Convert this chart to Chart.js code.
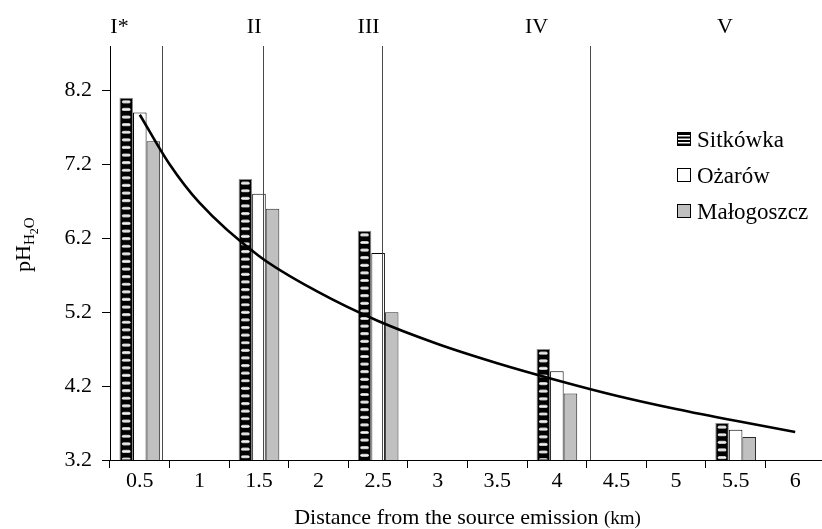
<!DOCTYPE html>
<html><head><meta charset="utf-8">
<script src="https://cdn.jsdelivr.net/npm/chart.js@4"></script>
<style>html,body{margin:0;padding:0;overflow:hidden;background:#fff}#wrap{width:830px;height:529px;position:relative}</style>
</head><body><div id="wrap"><canvas id="c"></canvas></div>
<script>
const distanceLabels = ['0.5','1','1.5','2','2.5','3','3.5','4','4.5','5','5.5','6'];
const sitkowka   = [8.10, null, 7.00, null, 6.30, null, null, 4.70, null, null, 3.70, null];
const ozarow     = [7.90, null, 6.80, null, 6.00, null, null, 4.40, null, null, 3.61, null];
const malogoszcz = [7.51, null, 6.60, null, 5.20, null, null, 4.10, null, null, 3.51, null];
const trendX = [0.5, 0.75, 1, 1.5, 2, 2.5, 3, 3.5, 4, 4.5, 5, 5.5, 6];
const trendY = [7.87, 7.20, 6.68, 5.96, 5.47, 5.08, 4.77, 4.51, 4.28, 4.07, 3.89, 3.73, 3.58];
const yTicks = [3.2, 4.2, 5.2, 6.2, 7.2, 8.2];
const zoneNames = ['I*', 'II', 'III', 'IV', 'V'];
const zoneLabelAt = [0.33, 1.46, 2.42, 3.83, 5.41];
const zoneBounds = [0.69, 1.53, 2.53, 4.28];
const seriesNames = ['Sitkówka', 'Ożarów', 'Małogoszcz'];

const FONT = "'Liberation Serif', 'Times New Roman', serif";

// distance (km) -> fractional category index on the category axis
const d0 = parseFloat(distanceLabels[0]);
const dStep = parseFloat(distanceLabels[1]) - d0;
const toIdx = d => (d - d0) / dStep;

function drawStripes(ctx, left, top, w, h) {
  ctx.save();
  ctx.beginPath(); ctx.rect(left, top, w, h); ctx.clip();
  for (let yy = top + 2; yy < top + h; yy += 7.6) {
    const g = ctx.createLinearGradient(0, yy, 0, yy + 3.2);
    g.addColorStop(0, '#b0b0b0'); g.addColorStop(0.5, '#f4f4f4'); g.addColorStop(1, '#b0b0b0');
    ctx.fillStyle = g;
    ctx.beginPath();
    if (ctx.roundRect) ctx.roundRect(left + 2, yy, w - 4, 3.2, 1.6); else ctx.rect(left + 2, yy, w - 4, 3.2);
    ctx.fill();
  }
  ctx.restore();
}

const decor = {
  id: 'decor',
  afterDatasetDraw(chart, args) {
    if (args.index !== 0) return;
    const ctx = chart.ctx, ca = chart.chartArea;
    args.meta.data.forEach(el => {
      const p = el.getProps(['x', 'y', 'base', 'width'], true);
      const bottom = Math.min(p.base, ca.bottom);
      if (!(bottom - p.y > 1)) return;
      drawStripes(ctx, p.x - p.width / 2 + 0.5, p.y + 0.5, p.width - 1, bottom - p.y - 1);
    });
    const xs = chart.scales.x;
    ctx.save();
    ctx.strokeStyle = '#4a4a4a'; ctx.lineWidth = 1;
    zoneBounds.forEach(v => {
      const px = Math.round(xs.getPixelForValue(toIdx(v))) + 0.5;
      ctx.beginPath(); ctx.moveTo(px, ca.top); ctx.lineTo(px, ca.bottom); ctx.stroke();
    });
    ctx.restore();
  },
  afterDraw(chart) {
    const ctx = chart.ctx, xs = chart.scales.x, ca = chart.chartArea;
    ctx.save();
    ctx.fillStyle = '#000';
    ctx.font = '22px ' + FONT; ctx.textAlign = 'center'; ctx.textBaseline = 'alphabetic';
    zoneNames.forEach((n, i) => ctx.fillText(n, xs.getPixelForValue(toIdx(zoneLabelAt[i])), 33));
    const lx = 677, rows = [139, 175, 211];
    ctx.font = '23px ' + FONT; ctx.textAlign = 'left';
    seriesNames.forEach((n, i) => {
      const cy = rows[i];
      const bx = lx, by = cy - 7, bs = 14;
      if (i === 0) {
        ctx.fillStyle = '#fff'; ctx.fillRect(bx, by, bs, bs);
        ctx.fillStyle = '#000';
        for (let k = 0; k < 4; k++) ctx.fillRect(bx, by + 1 + k * 3.5, bs, 2);
      } else {
        ctx.fillStyle = i === 1 ? '#fff' : '#c0c0c0';
        ctx.fillRect(bx, by, bs, bs);
      }
      ctx.strokeStyle = '#000'; ctx.lineWidth = 1;
      ctx.strokeRect(bx + 0.5, by + 0.5, bs - 1, bs - 1);
      ctx.fillStyle = '#000';
      ctx.fillText(n, 697, cy + 8);
    });
    const t1 = 'Distance from the source emission ', t2 = '(km)';
    ctx.font = '22px ' + FONT; const w1 = ctx.measureText(t1).width;
    ctx.font = '19px ' + FONT; const w2 = ctx.measureText(t2).width;
    const cx = (ca.left + ca.right) / 2, sx = cx - (w1 + w2) / 2;
    ctx.textAlign = 'left';
    ctx.font = '22px ' + FONT; ctx.fillText(t1, sx, 524);
    ctx.font = '19px ' + FONT; ctx.fillText(t2, sx + w1, 524);
    ctx.translate(30, 272); ctx.rotate(-Math.PI / 2);
    ctx.font = '22px ' + FONT; ctx.fillText('pH', 0, 0);
    let off = ctx.measureText('pH').width;
    ctx.font = '15px ' + FONT; ctx.fillText('H', off, 4); off += ctx.measureText('H').width;
    ctx.font = '12px ' + FONT; ctx.fillText('2', off, 8); off += ctx.measureText('2').width;
    ctx.font = '15px ' + FONT; ctx.fillText('O', off, 4);
    ctx.restore();
  }
};

const trendPts = trendX.map((d, i) => ({ x: toIdx(d), y: trendY[i] }));
const barCommon = { categoryPercentage: 0.683, barPercentage: 1.0, borderWidth: 1, order: 1 };

new Chart(document.getElementById('c'), {
  type: 'bar',
  data: {
    labels: distanceLabels,
    datasets: [
      Object.assign({ type: 'bar', label: seriesNames[0], data: sitkowka, backgroundColor: '#000', borderColor: '#8a8a8a' }, barCommon),
      Object.assign({ type: 'bar', label: seriesNames[1], data: ozarow, backgroundColor: '#fff', borderColor: '#000' }, barCommon),
      Object.assign({ type: 'bar', label: seriesNames[2], data: malogoszcz, backgroundColor: '#c0c0c0', borderColor: '#2a2a2a' }, barCommon),
      { type: 'line', label: 'trend', data: trendPts, parsing: false, xAxisID: 'x', yAxisID: 'y', borderColor: '#000', borderWidth: 2.6,
        pointRadius: 0, cubicInterpolationMode: 'monotone', fill: false, order: 0 }
    ]
  },
  options: {
    responsive: true, maintainAspectRatio: false, animation: false,
    layout: { padding: { top: 46, right: 5, left: 0, bottom: 0 } },
    plugins: { legend: { display: false }, tooltip: { enabled: false } },
    scales: {
      x: {
        type: 'category', offset: true,
        grid: { offset: true, drawOnChartArea: false, tickLength: 8, color: '#000', tickWidth: 1 },
        border: { color: '#000', width: 1 },
        ticks: { font: { family: FONT, size: 22 }, color: '#000', padding: 0, maxRotation: 0, autoSkip: false },
        afterFit: s => { s.height = 69; }
      },
      y: {
        type: 'linear', min: 3.2, max: 8.8,
        afterBuildTicks: s => { s.ticks = yTicks.map(v => ({ value: v })); },
        grid: { drawOnChartArea: false, tickLength: 8, color: '#000' },
        border: { color: '#000', width: 1 },
        ticks: { font: { family: FONT, size: 22 }, color: '#000', padding: 10, callback: v => Number(v).toFixed(1) },
        afterFit: s => { s.width = 110; }
      }
    }
  },
  plugins: [decor]
});
</script></body></html>
